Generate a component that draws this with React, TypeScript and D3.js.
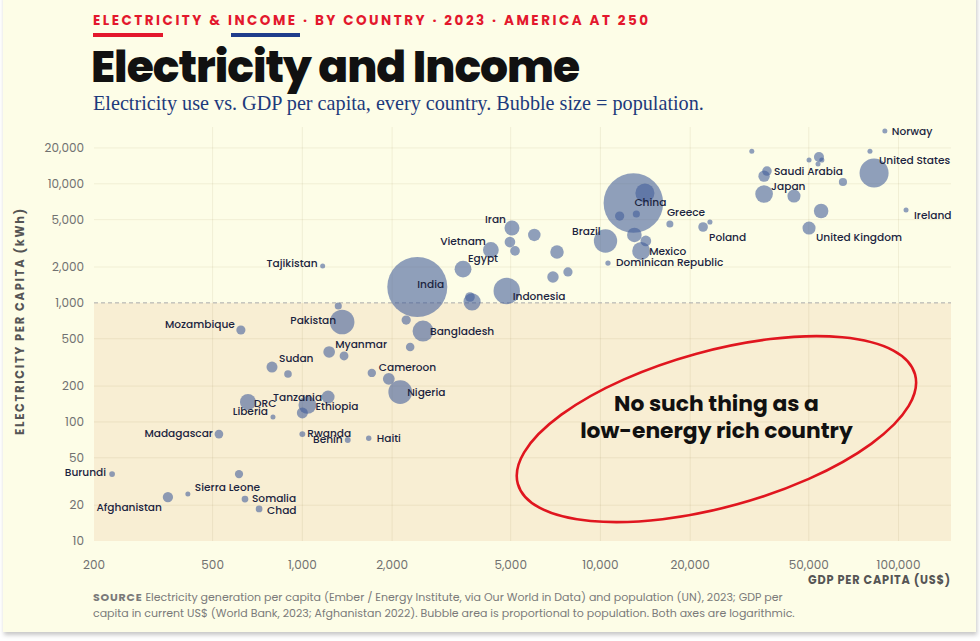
import * as d3 from "d3";

// Per-country values: GDP per capita (US$), electricity generation per capita (kWh), population (millions)
const countries = [
  "Norway", "United States", "Ireland", "United Kingdom", "Japan", "Saudi Arabia", "South Korea",
  "Kuwait", "Qatar", "Canada", "Sweden", "Finland", "UAE", "Australia", "France", "Germany",
  "Poland", "Greece", "Chile", "China", "Russia", "Malaysia", "Kazakhstan", "Turkey", "Argentina",
  "Mexico", "Brazil", "Dominican Republic", "Iran", "South Africa", "Iraq", "Ukraine", "Vietnam",
  "Egypt", "Thailand", "Colombia", "Peru", "India", "Indonesia", "Philippines", "Morocco",
  "Tajikistan", "Zambia", "Pakistan", "Ghana", "Bangladesh", "Côte d'Ivoire", "Mozambique",
  "Myanmar", "Nepal", "Sudan", "Mali", "Cameroon", "Kenya", "Nigeria", "DRC", "Liberia",
  "Tanzania", "Ethiopia", "Uganda", "Rwanda", "Benin", "Haiti", "Madagascar", "Burundi", "Niger",
  "Sierra Leone", "Afghanistan", "Somalia", "Chad",
];
const gdpPerCapita = [
  90000, 82800, 106000, 50100, 35400, 36200, 35400,
  32200, 80200, 54100, 55300, 50100, 53700, 65100, 44600, 55000,
  22100, 23300, 17100, 12900, 14100, 11600, 13200, 13000, 14200,
  13700, 10400, 10600, 5050, 6000, 4970, 5170, 4290,
  3460, 7150, 6930, 7780, 2430, 4850, 3710, 3650,
  1170, 1320, 1360, 2230, 2540, 2300, 622,
  1230, 1380, 791, 895, 1710, 1950, 2130, 657, 797,
  1220, 1040, 1000, 1000, 1420, 1670, 525, 230, 613,
  413, 354, 642, 716,
];
const electricityKwh = [
  27700, 12300, 6030, 4250, 8210, 12800, 11600,
  18800, 18800, 16800, 15850, 15850, 14700, 10350, 7890, 5910,
  4340, 4780, 4600, 6900, 8370, 5360, 5570, 3720, 3310,
  2730, 3310, 2160, 4250, 3720, 3240, 2730, 2780,
  1920, 2670, 1650, 1820, 1360, 1260, 1020, 1120,
  2040, 940, 690, 718, 580, 426, 592,
  387, 358, 289, 253, 258, 230, 178, 147, 110,
  162, 139, 119, 79, 70.5, 73, 79, 36.5, 36.5,
  24.8, 23.4, 22.5, 18.6,
];
const populationM = [
  5.5, 335, 5.3, 68, 124, 36, 51.7,
  4.3, 2.7, 40, 10.5, 5.6, 9.5, 26.6, 68, 84,
  37, 10.4, 19.6, 1410, 144, 34, 20, 85, 46,
  128, 216, 11, 89, 62, 45, 37, 99,
  113, 72, 52, 34, 1430, 277, 117, 37,
  10, 20, 240, 34, 173, 29, 33,
  54, 31, 48, 23, 28, 55, 224, 102, 5.4,
  67, 127, 48, 14, 13.7, 11.7, 30, 13, 27,
  8.8, 42, 18, 18,
];

const xTicks = [200, 500, 1000, 2000, 5000, 10000, 20000, 50000, 100000];
const yTicks = [10, 20, 50, 100, 200, 500, 1000, 2000, 5000, 10000, 20000];

// label placement: [dx, dy, anchor] relative to bubble centre
const labelAt: Record<string, [number, number, string]> = {
  "Norway": [7, 4, "start"],
  "United States": [5, -9, "start"],
  "Ireland": [8, 9, "start"],
  "United Kingdom": [7, 13, "start"],
  "Japan": [7, -4, "start"],
  "Saudi Arabia": [7, 4, "start"],
  "Greece": [-43, -6, "start"],
  "Poland": [6, 14, "start"],
  "China": [1, 3, "start"],
  "Mexico": [8, 4, "start"],
  "Brazil": [-5, -6, "end"],
  "Dominican Republic": [8, 3, "start"],
  "Iran": [-6, -5, "end"],
  "Vietnam": [-5, -5, "end"],
  "Egypt": [5, -7, "start"],
  "India": [0, 1, "start"],
  "Indonesia": [6, 9, "start"],
  "Tajikistan": [-5, 1, "end"],
  "Pakistan": [-6, 2, "end"],
  "Bangladesh": [7, 4, "start"],
  "Mozambique": [-6, -2, "end"],
  "Myanmar": [6, -4, "start"],
  "Sudan": [7, -5, "start"],
  "Cameroon": [7, -2, "start"],
  "Nigeria": [7, 4, "start"],
  "Tanzania": [-6, 4, "end"],
  "Ethiopia": [8, 5, "start"],
  "DRC": [6, 5, "start"],
  "Liberia": [-5, -2, "end"],
  "Rwanda": [5, 3, "start"],
  "Benin": [-5, 3, "end"],
  "Haiti": [8, 4, "start"],
  "Madagascar": [-6, 3, "end"],
  "Burundi": [-6, 2, "end"],
  "Sierra Leone": [7, -3, "start"],
  "Somalia": [7, 3, "start"],
  "Chad": [8, 5, "start"],
  "Afghanistan": [-6, 14, "end"],
};

const SANS = "Poppins, Inter, 'Noto Sans', sans-serif";

export default function App() {
  const left = 94, right = 951, top = 127, bottom = 541;
  const x = d3.scaleLog().domain([200, 150000]).range([left, right]);
  const y = d3.scaleLog().domain([10, 30000]).range([bottom, top]);
  const r = d3.scaleSqrt().domain([0, 1430]).range([0, 30]);
  const fmt = d3.format(",");

  const rows = countries
    .map((name, i) => ({ name, gdp: gdpPerCapita[i], elec: electricityKwh[i], pop: populationM[i] }))
    .sort((a, b) => b.pop - a.pop);

  const noteX = x(24500);
  const noteY = y(87);

  return (
    <svg width={980} height={641} style={{ position: "absolute", left: 0, top: 0, background: "#ffffff" }}>
      <defs>
        <filter id="cardShadow" x="-5%" y="-5%" width="110%" height="110%">
          <feDropShadow dx="1" dy="3" stdDeviation="2" floodColor="#000" floodOpacity="0.22" />
        </filter>
      </defs>
      <rect x={3} y={-6} width={973} height={638} fill="#fdfde7" filter="url(#cardShadow)" />

      {/* header */}
      <text x={93} y={25} fill="#e3182d" fontFamily={SANS} fontWeight={700} fontSize={13.5} letterSpacing={2.5}>
        ELECTRICITY &amp; INCOME · BY COUNTRY · 2023 · AMERICA AT 250
      </text>
      <rect x={93} y={33} width={70} height={4} fill="#e3182d" />
      <rect x={231} y={33} width={69} height={4} fill="#1f3d8c" />
      <text x={91} y={82} fill="#111111" fontFamily={SANS} fontWeight={800} fontSize={44} letterSpacing={-1}>
        Electricity and Income
      </text>
      <text x={93} y={110} fill="#1d3a7c" fontFamily="'Liberation Serif', 'DejaVu Serif', serif" fontSize={20.2}>
        Electricity use vs. GDP per capita, every country. Bubble size = population.
      </text>

      {/* low-energy zone */}
      <rect x={left} y={y(1000)} width={right - left} height={bottom - y(1000)} fill="#f8eed3" />

      {/* grid */}
      {xTicks.slice(1).map((t) => (
        <line key={"gx" + t} x1={x(t)} x2={x(t)} y1={top} y2={bottom} stroke="#8a7a3a" strokeOpacity={0.1} />
      ))}
      {yTicks.filter((t) => t !== 1000 && t !== 10).map((t) => (
        <line key={"gy" + t} x1={left} x2={right} y1={y(t)} y2={y(t)} stroke="#8a7a3a" strokeOpacity={0.1} />
      ))}
      <line x1={left} x2={right} y1={y(1000)} y2={y(1000)} stroke="#aaaaaa" strokeDasharray="4,3" />

      {/* ticks */}
      {yTicks.map((t) => (
        <text key={"ty" + t} x={left - 10} y={y(t) + 4} textAnchor="end" fill="#707070" fontFamily={SANS} fontSize={12}>
          {fmt(t)}
        </text>
      ))}
      {xTicks.map((t) => (
        <text key={"tx" + t} x={x(t)} y={569} textAnchor="middle" fill="#707070" fontFamily={SANS} fontSize={12}>
          {fmt(t)}
        </text>
      ))}
      <text x={right} y={584} textAnchor="end" fill="#555555" fontFamily={SANS} fontWeight={700} fontSize={11.3} letterSpacing={0.8}>
        GDP PER CAPITA (US$)
      </text>
      <text transform="translate(24,321) rotate(-90)" textAnchor="middle" fill="#555555"
        fontFamily={SANS} fontWeight={700} fontSize={11.5} letterSpacing={1.7}>
        ELECTRICITY PER CAPITA (kWh)
      </text>

      {/* bubbles */}
      {rows.map((d) => (
        <circle key={d.name} cx={x(d.gdp)} cy={y(d.elec)} r={Math.max(2.5, r(d.pop))} fill="#3f5c9a" fillOpacity={0.58} />
      ))}

      {/* country labels */}
      {rows.filter((d) => labelAt[d.name]).map((d) => {
        const [dx, dy, anchor] = labelAt[d.name];
        return (
          <text key={"l" + d.name} x={x(d.gdp) + dx} y={y(d.elec) + dy} textAnchor={anchor} fill="#1b2440"
            fontFamily={SANS} fontWeight={500} fontSize={10.6}>
            {d.name}
          </text>
        );
      })}

      {/* annotation */}
      <ellipse cx={noteX} cy={noteY} rx={206} ry={78} transform={`rotate(-15.4 ${noteX} ${noteY})`}
        fill="none" stroke="#e0161f" strokeWidth={2.6} />
      <text x={noteX} y={noteY - 18} textAnchor="middle" fill="#111111" fontFamily={SANS} fontWeight={700} fontSize={21.8}>
        No such thing as a
      </text>
      <text x={noteX} y={noteY + 9} textAnchor="middle" fill="#111111" fontFamily={SANS} fontWeight={700} fontSize={21.8}>
        low-energy rich country
      </text>

      {/* source */}
      <text x={93} y={601} fill="#7a7a7a" fontFamily={SANS} fontSize={11}>
        <tspan fontWeight={700} letterSpacing={0.8}>SOURCE</tspan> Electricity generation per capita (Ember / Energy Institute, via Our World in Data) and population (UN), 2023; GDP per
      </text>
      <text x={93} y={617} fill="#7a7a7a" fontFamily={SANS} fontSize={11}>
        capita in current US$ (World Bank, 2023; Afghanistan 2022). Bubble area is proportional to population. Both axes are logarithmic.
      </text>
    </svg>
  );
}
